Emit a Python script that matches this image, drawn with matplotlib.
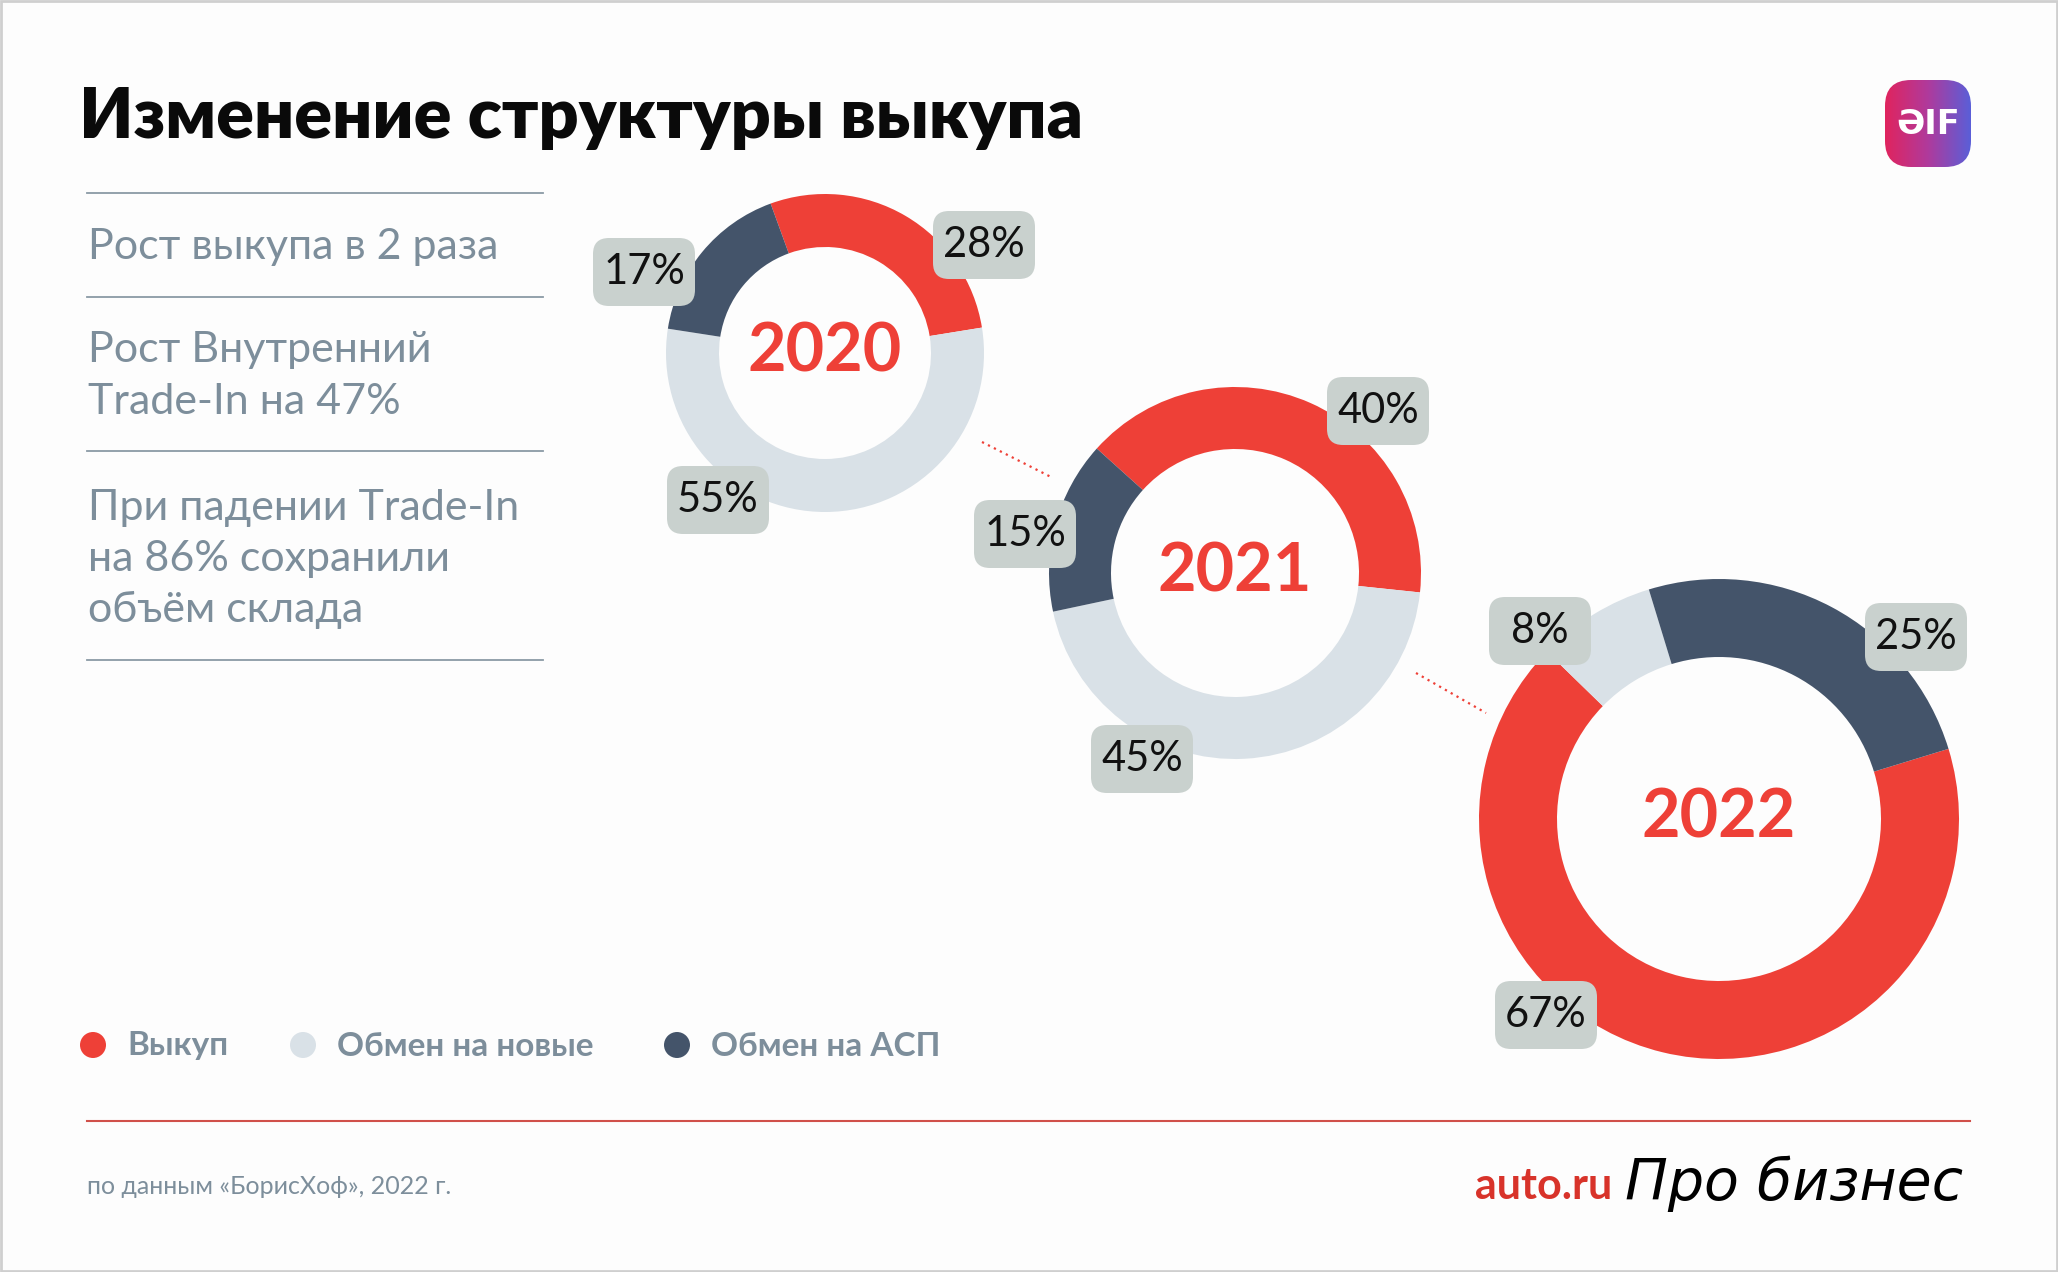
import numpy as np
import matplotlib.pyplot as plt
from matplotlib.colors import LinearSegmentedColormap
from matplotlib.patches import FancyBboxPatch, Circle, Rectangle

W, H = 2058, 1272

# data
years = ["2020", "2021", "2022"]
categories = ["Выкуп", "Обмен на новые", "Обмен на АСП"]
share_2020 = [28, 55, 17]  # red, light, dark
share_2021 = [40, 45, 15]
share_2022 = [67, 8, 25]
notes = ["Рост выкупа в 2 раза",
         "Рост Внутренний\nTrade-In на 47%",
         "При падении Trade-In\nна 86% сохранили\nобъём склада"]

RED = "#EE4037"
LIGHT = "#D9E1E7"
DARK = "#44546A"
GREY_TXT = "#7D8E9B"
BOX = "#C9D1CE"
colors = [RED, LIGHT, DARK]

plt.rcParams['font.family'] = ['Lato', 'DejaVu Sans']

fig = plt.figure(figsize=(W / 100, H / 100), dpi=100)
fig.patch.set_facecolor("#FDFDFD")
ax = fig.add_axes([0, 0, 1, 1])

def Y(y):
    return H - y  # pixel rows from top

# donuts: values, center, outer radius, ring width, start angle, label positions
donuts = [
    (share_2020, (825, 353), 159, 53, 110, [(984, 245), (718, 500), (644, 272)]),
    (share_2021, (1235, 573), 186, 62, 138, [(1378, 411), (1142, 759), (1025, 534)]),
    (share_2022, (1719, 819), 240, 78, 17, [(1546, 1015), (1540, 631), (1916, 637)]),
]

for (vals, (cx, cy), r, w, start, lpos), yr in zip(donuts, years):
    ax.pie(vals, colors=colors, center=(cx, Y(cy)), radius=r, startangle=start,
           counterclock=False, wedgeprops=dict(width=w, linewidth=0))
    ax.text(cx, Y(cy), yr, color=RED, fontsize=48, fontweight="bold",
            ha="center", va="center")
    for v, (lx, ly) in zip(vals, lpos):
        ax.add_patch(FancyBboxPatch((lx - 43, Y(ly) - 26), 86, 52,
                                    boxstyle="round,pad=8,rounding_size=16",
                                    fc=BOX, ec="none", zorder=3))
        ax.text(lx, Y(ly), f"{v}%", color="#111111", fontsize=30,
                ha="center", va="center", zorder=4)

# dotted connectors
ax.plot([982, 1053], [Y(442), Y(478)], color=RED, ls=(0, (1, 2)), lw=1.6)
ax.plot([1416, 1486], [Y(673), Y(713)], color=RED, ls=(0, (1, 2)), lw=1.6)

# title
ax.text(79, Y(118), "Изменение структуры выкупа", fontsize=50.5, fontweight="heavy",
        color="#0A0A0A", ha="left", va="center")

# side notes with rules
for yl in [193, 297, 451, 660]:
    ax.plot([87, 543], [Y(yl), Y(yl)], color="#8A9AA5", lw=1.3)
note_y = [247, 376, 559]
for t, ny in zip(notes, note_y):
    ax.text(88, Y(ny), t, fontsize=31, color=GREY_TXT, ha="left", va="center",
            linespacing=1.42)

# legend
leg_x = [93, 303, 677]
for c, lab, lx in zip(colors, categories, leg_x):
    ax.add_patch(Circle((lx, Y(1045)), 13, fc=c, ec="none"))
    ax.text(lx + 34, Y(1046), lab, fontsize=24, fontweight="bold",
            color=GREY_TXT, ha="left", va="center")

# footer
ax.plot([87, 1970], [Y(1121), Y(1121)], color="#D0504A", lw=1.5)
ax.text(87, Y(1186), "по данным «БорисХоф», 2022 г.", fontsize=18,
        color=GREY_TXT, ha="left", va="center")
ax.text(1612, Y(1186), "auto.ru", fontsize=31, fontweight="bold", color="#D8332A",
        ha="right", va="center")
ax.text(1625, Y(1184), "Про бизнес", fontsize=41, style="italic", color="black",
        family="DejaVu Sans", ha="left", va="center")

# logo
logo = FancyBboxPatch((1885, Y(167)), 86, 87, boxstyle="round,pad=0,rounding_size=26",
                      fc="none", ec="none")
ax.add_patch(logo)
grad = np.linspace(0, 1, 256).reshape(1, -1)
cmap = LinearSegmentedColormap.from_list("aif", ["#E0245E", "#B03A9C", "#5A5FD8"])
im = ax.imshow(grad, extent=(1885, 1971, Y(167), Y(80)), cmap=cmap,
               aspect="auto", zorder=2)
im.set_clip_path(logo)
ax.text(1928, Y(124), "ƏIF", fontsize=24, fontweight="bold", color="white",
        family="DejaVu Sans", ha="center", va="center", zorder=3)

# frame
ax.add_patch(Rectangle((1, 1), W - 2, H - 2, fc="none", ec="#CFCFCF", lw=2))

ax.set_xlim(0, W)
ax.set_ylim(0, H)
ax.set_aspect("auto")
ax.axis("off")

fig.savefig("out.png", dpi=100, facecolor=fig.get_facecolor())
